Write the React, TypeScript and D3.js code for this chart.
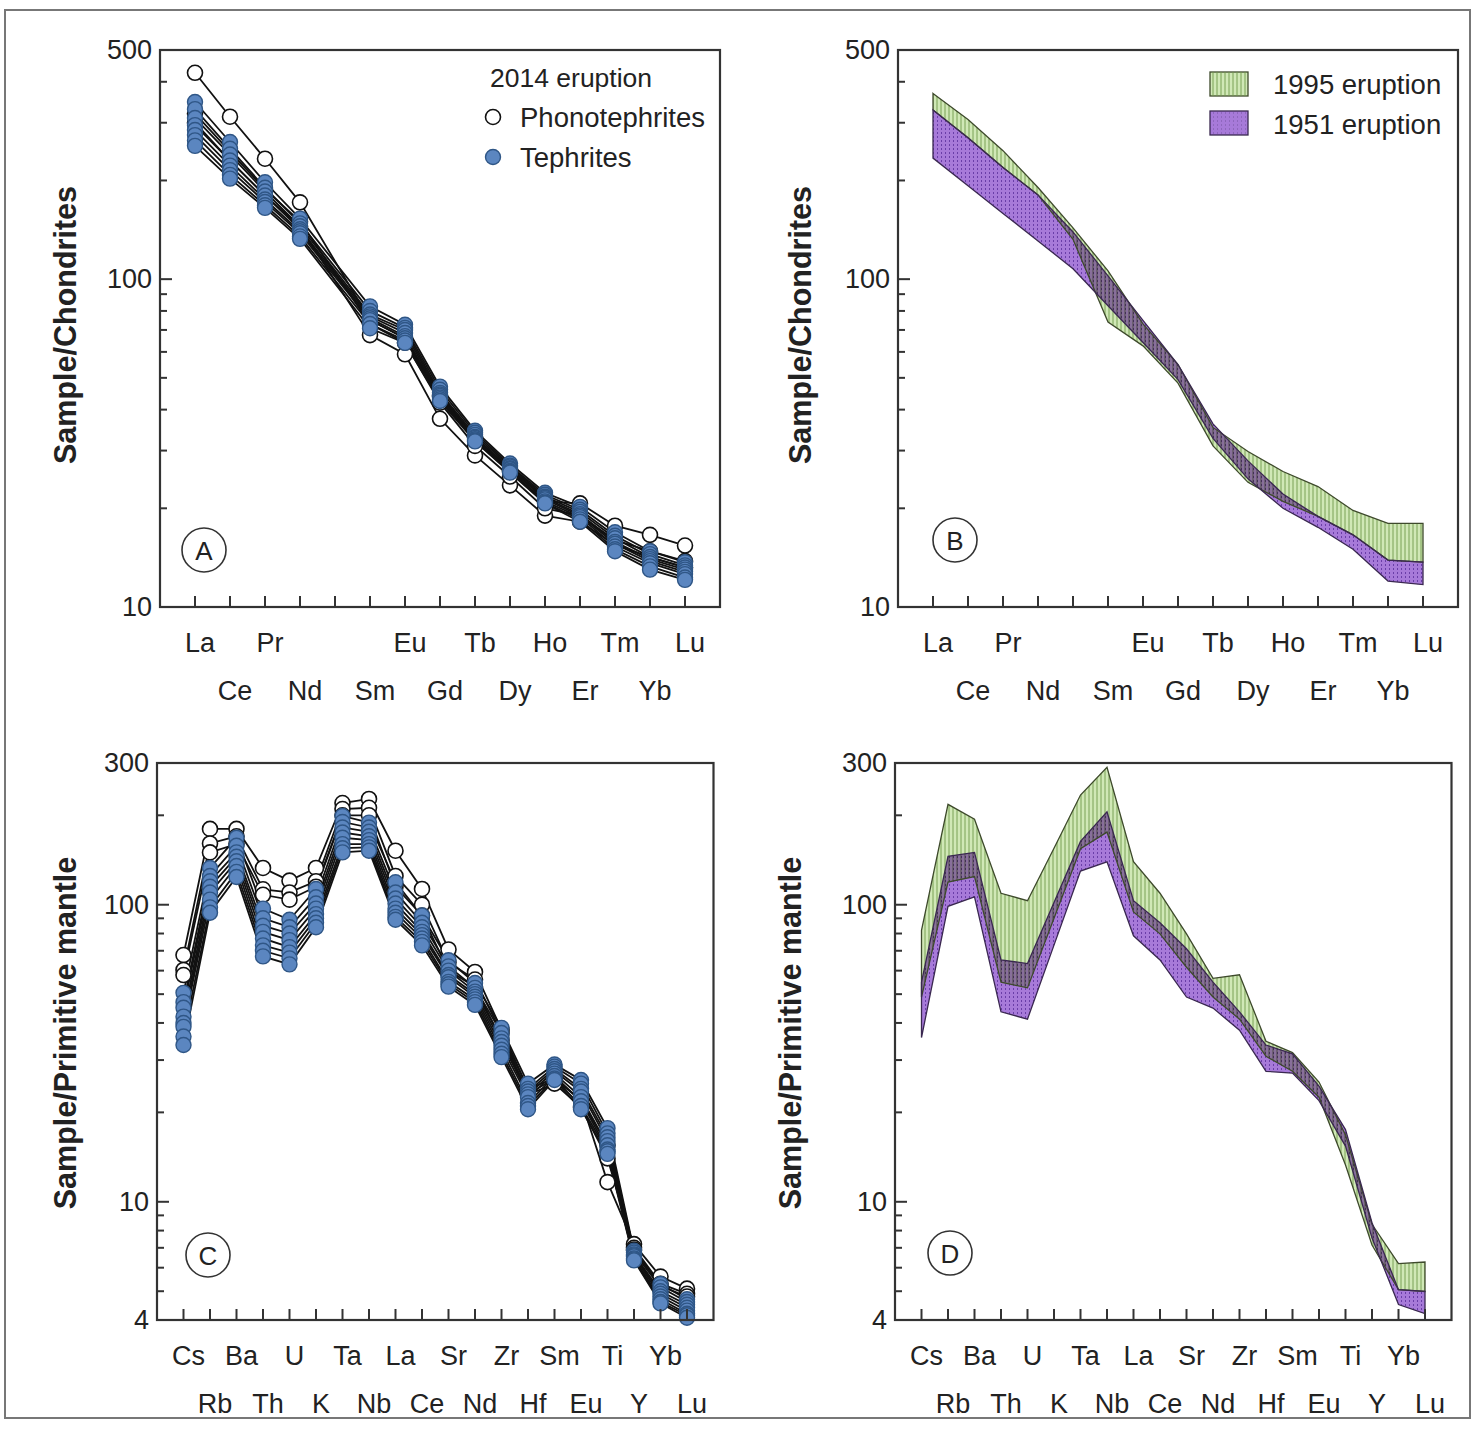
import React from "react";
import * as d3 from "d3";

// ---------- DATA ----------
const reeElements = ["La", "Ce", "Pr", "Nd", "Pm", "Sm", "Eu", "Gd", "Tb", "Dy", "Ho", "Er", "Tm", "Yb", "Lu"];
const reeTickLabels = ["La", "Ce", "Pr", "Nd", "", "Sm", "Eu", "Gd", "Tb", "Dy", "Ho", "Er", "Tm", "Yb", "Lu"];
const pmElements = ["Cs", "Rb", "Ba", "Th", "U", "K", "Ta", "Nb", "La", "Ce", "Sr", "Nd", "Zr", "Hf", "Sm", "Eu", "Ti", "Y", "Yb", "Lu"];

// Panel A: 2014 eruption, chondrite-normalised REE (Pm = null)
const reePhonotephrites: (number | null)[][] = [
  [426, 313, 233, 171.5, null, 75, 66, 44, 33, 26, 21, 20.7, 17.7, 16.6, 15.4],
  [300, 230, 180, 145, null, 67.5, 59, 37.5, 29, 23.5, 19, 18.2, 15.5, 14.2, 13.2],
  [320, 245, 188, 150, null, 73, 64, 42, 31, 25, 20, 19, 16, 14.8, 13.8],
];
const reeTephrites: (number | null)[][] = [
  [347, 262, 197.5, 153, null, 82.6, 72.6, 47, 34.5, 27.4, 22.3, 20.2, 16.9, 14.8, 13.7],
  [330, 250, 190, 148, null, 80, 71, 46, 34, 27, 22, 19.8, 16.5, 14.5, 13.4],
  [310, 240, 185, 145, null, 78, 70, 45, 33.5, 26.8, 21.7, 19.5, 16.2, 14.2, 13.2],
  [295, 230, 180, 142, null, 77, 68.5, 44.5, 33, 26.5, 21.5, 19.2, 15.8, 14, 13],
  [285, 222, 175, 140, null, 76, 67, 44, 32.8, 26.3, 21.3, 19, 15.6, 13.8, 12.8],
  [275, 215, 172, 138, null, 75, 66, 43.5, 32.5, 26, 21, 18.8, 15.3, 13.6, 12.6],
  [265, 208, 168, 135, null, 73, 65, 43, 32.2, 25.8, 20.8, 18.5, 15, 13.3, 12.3],
  [255, 202.6, 165, 132.7, null, 70.8, 63.9, 42.5, 32, 25.7, 20.7, 18.2, 14.8, 13, 12.1],
];

// Panel B: REE envelopes
const ree1995Upper = [368.6, 307, 246.6, 190.3, 143.3, 106, 73.0, 54.9, 35.3, 29.8, 25.9, 23.3, 19.7, 18.0, 18.0];
const ree1995Lower = [328, 270, 219, 180.7, 132.3, 74, 62.6, 48.2, 31.0, 24.0, 21.0, 18.9, 16.6, 13.9, 13.7];
const ree1951Upper = [328, 270, 219, 180.7, 139.3, 102.3, 74.9, 54.9, 36.2, 27.9, 22.1, 18.9, 16.6, 13.9, 13.7];
const ree1951Lower = [234, 192.7, 158.7, 130.8, 107.6, 83.0, 64.1, 49.4, 32.7, 24.6, 20.0, 17.5, 15.0, 12.0, 11.7];

// Panel C: 2014 eruption, primitive-mantle-normalised
const pmPhonotephrites: number[][] = [
  [67.7, 180, 180, 133, 120.5, 133, 220, 227, 152, 113, 70.7, 59.4, 38, 24, 26, 22, 11.65, 7.2, 5.6, 5.1],
  [60.3, 160.8, 170, 112.7, 110, 120, 210, 212, 125, 100, 64, 56, 37, 22.9, 25, 20.8, 14, 7.0, 5.3, 4.9],
  [58, 150, 160, 108, 104, 115, 200, 200, 115, 92, 60, 53, 35, 23, 26, 22, 15.5, 6.9, 5.2, 4.8],
];
const pmTephrites: number[][] = [
  [50.5, 133, 168, 97, 89, 113, 199, 189, 119, 92, 65, 54.5, 38.5, 25, 29, 25.7, 17.7, 6.84, 5.29, 4.7],
  [47, 125, 158, 90, 84, 106, 190, 182, 110, 87, 62, 52.5, 37, 24, 28.5, 25, 17, 6.75, 5.15, 4.6],
  [45, 120, 150, 85, 80, 101, 182, 176, 105, 84, 60, 51, 35.5, 23.5, 28, 24, 16.5, 6.65, 5.0, 4.5],
  [42, 115, 145, 81, 76, 97, 175, 170, 101, 81, 58, 50, 34.5, 23, 27.5, 23.5, 16, 6.6, 4.9, 4.4],
  [40, 110, 140, 77, 72, 93, 168, 165, 97, 79, 57, 49, 33.5, 22.5, 27, 22.5, 15.5, 6.55, 4.8, 4.3],
  [38.8, 104, 135, 73, 69, 90, 160, 160, 94, 77, 55, 48, 32.5, 21.5, 26.5, 21.8, 15, 6.45, 4.7, 4.2],
  [36, 98, 129, 70, 66, 87, 155, 156, 91, 75, 54, 47, 31.5, 21, 26, 21, 14.8, 6.4, 4.6, 4.15],
  [33.7, 94, 124, 67, 63, 84, 150, 152, 89, 73, 53, 46, 30.7, 20.5, 25.7, 20.5, 14.5, 6.35, 4.55, 4.07],
];

// Panel D: primitive-mantle envelopes
const pm1995Upper = [82.0, 217.8, 194, 109.3, 103.2, 155, 234, 290, 139.5, 109.3, 79.8, 56.5, 58.1, 34.7, 31.8, 25.3, 16.8, 8.4, 6.19, 6.27];
const pm1995Lower = [48.9, 119.2, 124.4, 54.9, 52.5, 90, 154.3, 175.6, 94.6, 79.8, 61.6, 48.9, 41.2, 30.9, 27.5, 22.5, 13.3, 7.15, 5.06, 4.99];
const pm1951Upper = [54.9, 145.6, 150, 65.2, 63.4, 101.7, 163.4, 205.5, 103.2, 86.9, 71.1, 54.9, 43.6, 33.7, 31.5, 24.5, 17.5, 8.5, 5.06, 4.99];
const pm1951Lower = [35.7, 98.8, 106.2, 43.6, 41.2, 73.1, 129.8, 139.5, 78.6, 65.2, 48.9, 44.9, 37.8, 27.5, 27.1, 21.9, 15.4, 7.55, 4.51, 4.2];

const reeMajorTicks = [10, 100, 500];
const pmMajorTicks = [4, 10, 100, 300];

// ---------- LAYOUT ----------
const FONT = "Liberation Sans, Arial, Helvetica, sans-serif";
const AX = "#333";
const BLUE_FILL = "#5b86c0";
const BLUE_STROKE = "#2f5686";
const GREEN_FILL = "#d0e8b6";
const PURPLE_FILL = "#a77ad9";

type Box = { x0: number; x1: number; y0: number; y1: number };

function makeScales(box: Box, n: number, dom: [number, number]) {
  const x = d3.scaleLinear().domain([-1, n]).range([box.x0, box.x1]);
  const y = d3.scaleLog().domain(dom).range([box.y1, box.y0]);
  return { x, y };
}

function minorTicks(dom: [number, number]) {
  const out: number[] = [];
  for (let dec = 1; dec <= 1000; dec *= 10) {
    for (let k = 2; k <= 9; k++) {
      const v = k * dec;
      if (v > dom[0] && v < dom[1]) out.push(v);
    }
  }
  return out;
}

function Frame({ box, n, dom, majors, labels, ylabel, ylabelX, ylabelY, tag, tagPos }: any) {
  const { x, y } = makeScales(box, n, dom);
  const minors = minorTicks(dom).filter((v) => !majors.includes(v));
  return (
    <g>
      <rect x={box.x0} y={box.y0} width={box.x1 - box.x0} height={box.y1 - box.y0} fill="none" stroke={AX} strokeWidth={2.2} />
      {majors.map((v: number) => (
        <g key={"M" + v}>
          <line x1={box.x0} x2={box.x0 + 12} y1={y(v)} y2={y(v)} stroke={AX} strokeWidth={2} />
          <text x={box.x0 - 8} y={y(v)} textAnchor="end" dominantBaseline="central" fontSize={27} fontFamily={FONT} fill="#222">
            {v}
          </text>
        </g>
      ))}
      {minors.map((v: number) => (
        <line key={"m" + v} x1={box.x0} x2={box.x0 + 7} y1={y(v)} y2={y(v)} stroke={AX} strokeWidth={2} />
      ))}
      {labels.map((lab: string, i: number) => (
        <g key={"x" + i}>
          <line x1={x(i)} x2={x(i)} y1={box.y1} y2={box.y1 - 11} stroke={AX} strokeWidth={2} />
          <text x={x(i) + 5} y={box.y1 + (i % 2 === 0 ? 36 : 84)} textAnchor="middle" dominantBaseline="central" fontSize={27} fontFamily={FONT} fill="#222">
            {lab}
          </text>
        </g>
      ))}
      <text
        transform={`translate(${ylabelX},${ylabelY}) rotate(-90)`}
        textAnchor="middle"
        dominantBaseline="central"
        fontSize={30.5}
        fontWeight="bold"
        fontFamily={FONT}
        fill="#222"
      >
        {ylabel}
      </text>
      <circle cx={tagPos[0]} cy={tagPos[1]} r={22} fill="white" stroke={AX} strokeWidth={1.6} />
      <text x={tagPos[0]} y={tagPos[1] + 1} textAnchor="middle" dominantBaseline="central" fontSize={26} fontFamily={FONT} fill="#222">
        {tag}
      </text>
    </g>
  );
}

function Samples({ box, n, dom, phono, teph }: any) {
  const { x, y } = makeScales(box, n, dom);
  const pts = (row: (number | null)[]) =>
    row.map((v, i) => (v == null ? null : ([x(i), y(v)] as [number, number]))).filter((p) => p != null) as [number, number][];
  const lineGen = d3.line();
  return (
    <g>
      {[...phono, ...teph].map((row: (number | null)[], k: number) => (
        <path key={"l" + k} d={lineGen(pts(row)) || ""} fill="none" stroke="#111" strokeWidth={1.8} />
      ))}
      {phono.map((row: (number | null)[], k: number) =>
        pts(row).map((p, i) => <circle key={`p${k}-${i}`} cx={p[0]} cy={p[1]} r={7.5} fill="white" stroke="#111" strokeWidth={1.6} />)
      )}
      {teph.map((row: (number | null)[], k: number) =>
        pts(row).map((p, i) => <circle key={`t${k}-${i}`} cx={p[0]} cy={p[1]} r={7.5} fill={BLUE_FILL} stroke={BLUE_STROKE} strokeWidth={1.4} />)
      )}
    </g>
  );
}

function Bands({ box, n, dom, g1995, p1951, clipId }: any) {
  const { x, y } = makeScales(box, n, dom);
  const area = (up: number[], lo: number[]) => {
    const top = up.map((v, i) => [x(i), y(v)] as [number, number]);
    const bot = lo.map((v, i) => [x(i), y(v)] as [number, number]).reverse();
    return d3.line()([...top, ...bot]) + "Z";
  };
  const gPath = area(g1995[0], g1995[1]);
  const pPath = area(p1951[0], p1951[1]);
  return (
    <g clipPath={`url(#${clipId})`}>
      <g style={{ isolation: "isolate" }}>
        <path d={gPath} fill={GREEN_FILL} />
        <path d={gPath} fill="url(#hatchGreen)" />
        <path d={pPath} fill={PURPLE_FILL} style={{ mixBlendMode: "multiply" }} />
        <path d={pPath} fill="url(#hatchPurple)" style={{ mixBlendMode: "multiply" }} />
      </g>
      <path d={gPath} fill="none" stroke="#3e4a2c" strokeWidth={1.3} />
      <path d={pPath} fill="none" stroke="#3a2850" strokeWidth={1.3} />
    </g>
  );
}

export default function App() {
  const A: Box = { x0: 160, x1: 720, y0: 50, y1: 607 };
  const B: Box = { x0: 898, x1: 1458, y0: 50, y1: 607 };
  const C: Box = { x0: 157, x1: 713.5, y0: 763, y1: 1320 };
  const D: Box = { x0: 895, x1: 1451.5, y0: 763, y1: 1320 };
  const reeDom: [number, number] = [10, 500];
  const pmDom: [number, number] = [4, 300];
  const nR = reeElements.length;
  const nP = pmElements.length;

  return (
    <svg width={1476} height={1443} style={{ position: "absolute", left: 0, top: 0, background: "white" }}>
      <defs>
        <pattern id="hatchGreen" patternUnits="userSpaceOnUse" width={4} height={10}>
          <line x1={1} x2={1} y1={0} y2={10} stroke="#6f9a4a" strokeWidth={0.9} />
        </pattern>
        <pattern id="hatchPurple" patternUnits="userSpaceOnUse" width={4} height={4}>
          <rect x={1} y={0} width={0.8} height={2} fill="#8a63b8" />
        </pattern>
        <clipPath id="clipB">
          <rect x={B.x0} y={B.y0} width={B.x1 - B.x0} height={B.y1 - B.y0} />
        </clipPath>
        <clipPath id="clipD">
          <rect x={D.x0} y={D.y0} width={D.x1 - D.x0} height={D.y1 - D.y0} />
        </clipPath>
      </defs>
      <rect x={0} y={0} width={1476} height={1443} fill="white" />
      <rect x={5} y={10} width={1465} height={1408} fill="none" stroke="#777" strokeWidth={2} />

      {/* Panel A */}
      <Samples box={A} n={nR} dom={reeDom} phono={reePhonotephrites} teph={reeTephrites} />
      <Frame box={A} n={nR} dom={reeDom} majors={reeMajorTicks} labels={reeTickLabels} ylabel="Sample/Chondrites" ylabelX={65} ylabelY={325} tag="A" tagPos={[204, 550]} />
      <g fontFamily={FONT} fill="#222">
        <text x={490} y={78} fontSize={26.5} dominantBaseline="central">2014 eruption</text>
        <circle cx={493} cy={117} r={7.5} fill="white" stroke="#111" strokeWidth={1.6} />
        <text x={520} y={117} fontSize={27.5} dominantBaseline="central">Phonotephrites</text>
        <circle cx={493} cy={157} r={7.5} fill={BLUE_FILL} stroke={BLUE_STROKE} strokeWidth={1.4} />
        <text x={520} y={157} fontSize={27.5} dominantBaseline="central">Tephrites</text>
      </g>

      {/* Panel B */}
      <Bands box={B} n={nR} dom={reeDom} g1995={[ree1995Upper, ree1995Lower]} p1951={[ree1951Upper, ree1951Lower]} clipId="clipB" />
      <Frame box={B} n={nR} dom={reeDom} majors={reeMajorTicks} labels={reeTickLabels} ylabel="Sample/Chondrites" ylabelX={800} ylabelY={325} tag="B" tagPos={[955, 540]} />
      <g fontFamily={FONT} fill="#222">
        <rect x={1210} y={72} width={38} height={24} fill={GREEN_FILL} stroke="#3e4a2c" strokeWidth={1.3} />
        <rect x={1210} y={72} width={38} height={24} fill="url(#hatchGreen)" />
        <text x={1273} y={84} fontSize={27.5} dominantBaseline="central">1995 eruption</text>
        <rect x={1210} y={111} width={38} height={24} fill={PURPLE_FILL} stroke="#3a2850" strokeWidth={1.3} />
        <rect x={1210} y={111} width={38} height={24} fill="url(#hatchPurple)" />
        <text x={1273} y={124} fontSize={27.5} dominantBaseline="central">1951 eruption</text>
      </g>

      {/* Panel C */}
      <Samples box={C} n={nP} dom={pmDom} phono={pmPhonotephrites} teph={pmTephrites} />
      <Frame box={C} n={nP} dom={pmDom} majors={pmMajorTicks} labels={pmElements} ylabel="Sample/Primitive mantle" ylabelX={65} ylabelY={1033} tag="C" tagPos={[208, 1255]} />

      {/* Panel D */}
      <Bands box={D} n={nP} dom={pmDom} g1995={[pm1995Upper, pm1995Lower]} p1951={[pm1951Upper, pm1951Lower]} clipId="clipD" />
      <Frame box={D} n={nP} dom={pmDom} majors={pmMajorTicks} labels={pmElements} ylabel="Sample/Primitive mantle" ylabelX={790} ylabelY={1033} tag="D" tagPos={[950, 1253]} />
    </svg>
  );
}
